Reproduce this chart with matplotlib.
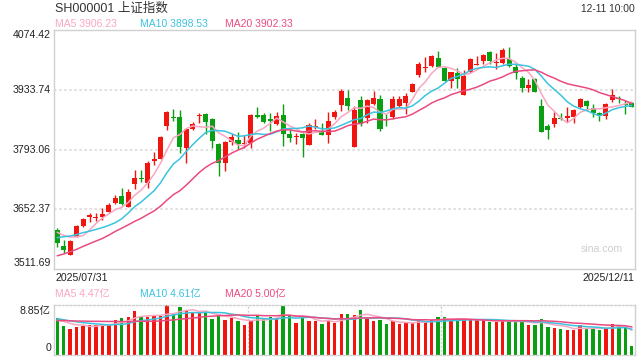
import numpy as np
import pandas as pd
import matplotlib
matplotlib.use("Agg")
import matplotlib.pyplot as plt

# ---------------- data ----------------
date_first = "2025/07/31"
date_last = "2025/12/11"
title = "SH000001 上证指数"
stamp = "12-11 10:00"

opens = [3603.8, 3566.2, 3545.7, 3588.1, 3614.0, 3635.3, 3632.9, 3634.5, 3647.1, 3667.5,
         3684.0, 3658.8, 3713.0, 3726.4, 3715.4, 3767.2, 3771.9, 3849.7, 3870.9, 3870.1,
         3797.8, 3841.8, 3872.4, 3877.2, 3864.6, 3806.5, 3762.5, 3812.0, 3815.9, 3807.3,
         3809.6, 3874.8, 3874.0, 3864.6, 3853.6, 3874.8, 3830.0, 3822.2, 3830.0, 3804.9,
         3847.3, 3835.5, 3828.5, 3870.1, 3898.3, 3914.8, 3800.2, 3910.1, 3868.5, 3900.7,
         3911.7, 3866.1, 3869.3, 3896.8, 3903.9, 3929.8, 3969.8, 3986.3, 3990.2, 4008.3,
         3985.5, 3955.7, 3973.8, 3921.9, 3975.3, 3993.4, 4002.0, 4022.4, 3998.1, 3998.1,
         4006.7, 3987.1, 3961.2, 3939.2, 3959.7, 3896.8, 3848.9, 3852.8, 3868.5, 3868.5,
         3870.9, 3892.9, 3907.8, 3892.1, 3879.5, 3873.3, 3911.0, 3915.7, 3900.0, 3903.9]
highs = [3607.8, 3580.3, 3580.3, 3616.4, 3633.0, 3643.9, 3643.9, 3655.7, 3667.5, 3686.3,
         3703.6, 3699.7, 3745.2, 3745.2, 3767.2, 3787.6, 3825.4, 3884.3, 3888.2, 3886.6,
         3843.4, 3858.3, 3880.3, 3880.3, 3867.7, 3808.8, 3814.3, 3830.0, 3835.5, 3827.7,
         3876.4, 3892.9, 3878.7, 3878.7, 3881.9, 3900.7, 3841.0, 3831.6, 3833.2, 3855.1,
         3865.4, 3855.1, 3881.1, 3885.8, 3936.8, 3933.7, 3896.0, 3919.6, 3913.3, 3931.3,
         3921.9, 3877.2, 3919.6, 3919.6, 3925.8, 3949.4, 3998.9, 4012.2, 4016.9, 4026.4,
         3987.1, 3976.9, 3985.5, 3980.0, 4009.1, 4013.8, 4018.5, 4025.6, 4021.7, 4031.9,
         4035.8, 3996.5, 3967.5, 3959.7, 3961.2, 3912.5, 3853.6, 3881.1, 3878.8, 3894.5,
         3889.0, 3915.7, 3910.2, 3900.0, 3882.7, 3902.3, 3936.1, 3920.4, 3910.2, 3904.7]
lows = [3563.0, 3548.9, 3545.7, 3586.6, 3611.7, 3621.9, 3624.3, 3627.4, 3646.3, 3665.9,
        3662.0, 3657.3, 3701.3, 3717.0, 3703.6, 3757.8, 3770.4, 3839.5, 3859.9, 3784.5,
        3760.9, 3838.7, 3855.2, 3830.0, 3796.3, 3731.9, 3743.6, 3803.3, 3793.9, 3796.3,
        3796.3, 3866.9, 3855.2, 3837.9, 3851.2, 3801.8, 3812.0, 3806.5, 3775.0, 3803.3,
        3841.0, 3827.7, 3809.6, 3865.4, 3885.0, 3886.6, 3800.2, 3848.9, 3856.7, 3897.6,
        3836.3, 3848.9, 3866.1, 3894.4, 3877.2, 3928.2, 3963.5, 3976.9, 3988.7, 3987.1,
        3954.1, 3937.6, 3939.2, 3921.9, 3973.8, 3992.6, 3995.0, 3995.0, 3982.4, 3995.0,
        3988.7, 3960.4, 3928.2, 3929.8, 3928.2, 3835.6, 3817.5, 3847.3, 3862.3, 3859.1,
        3856.8, 3890.5, 3889.0, 3870.9, 3859.9, 3864.6, 3906.2, 3902.3, 3876.4, 3894.5]
closes = [3574.0, 3556.7, 3577.9, 3613.3, 3629.8, 3638.4, 3635.3, 3641.6, 3662.8, 3679.3,
          3665.9, 3692.6, 3726.4, 3724.0, 3761.7, 3770.4, 3823.0, 3881.9, 3867.7, 3800.2,
          3841.0, 3852.8, 3874.0, 3859.1, 3814.3, 3762.5, 3811.2, 3823.0, 3806.5, 3809.6,
          3874.8, 3869.3, 3859.1, 3860.7, 3872.4, 3830.0, 3821.4, 3825.3, 3821.4, 3851.2,
          3849.6, 3828.5, 3860.6, 3882.6, 3932.1, 3896.8, 3886.6, 3852.8, 3910.1, 3914.8,
          3841.0, 3863.8, 3911.7, 3911.7, 3919.6, 3947.8, 3995.0, 3988.7, 4013.8, 3988.7,
          3955.7, 3975.3, 3960.4, 3966.7, 4006.7, 3995.0, 4016.2, 4002.8, 3999.7, 4027.9,
          3991.0, 3973.0, 3939.2, 3945.5, 3929.8, 3835.6, 3838.7, 3867.8, 3866.2, 3872.5,
          3886.6, 3911.7, 3895.2, 3878.8, 3873.3, 3900.0, 3921.2, 3911.7, 3898.4, 3894.5]
# volume in 亿
volumes = [6.60, 5.13, 4.60, 5.01, 5.19, 5.31, 5.31, 5.43, 5.31, 6.20,
           6.55, 6.73, 7.85, 6.79, 6.66, 6.90, 6.90, 8.85, 7.26, 8.44,
           7.97, 7.55, 7.37, 7.55, 6.43, 6.90, 6.20, 6.60, 6.02, 5.37,
           6.07, 7.02, 6.37, 6.73, 6.49, 8.67, 6.90, 5.61, 6.90, 6.02,
           5.96, 5.49, 6.07, 5.72, 7.26, 7.26, 7.08, 7.97, 6.43, 6.07,
           6.20, 5.49, 5.96, 5.49, 5.72, 5.61, 6.31, 5.84, 6.20, 6.73,
           6.73, 6.20, 6.20, 6.20, 6.31, 6.20, 6.20, 5.84, 5.84, 6.07,
           6.02, 5.84, 5.96, 5.31, 5.31, 6.31, 4.96, 4.78, 4.60, 4.48,
           4.48, 5.25, 4.66, 4.78, 4.48, 4.78, 5.49, 5.25, 4.90, 1.59]
# sessions before the first visible one (only feed the moving averages)
pre_close = [3472.32, 3473.13, 3497.48, 3493.05, 3509.68, 3510.18, 3519.65, 3505.00,
             3503.78, 3516.83, 3534.48, 3559.79, 3581.86, 3582.30, 3605.73, 3593.66,
             3597.94, 3609.71, 3615.72]
pre_vol = [5.1, 5.6, 5.8, 5.5, 5.9, 5.4, 5.7, 5.6, 6.1,
           6.9, 7.2, 6.5, 6.6, 6.8, 6.5, 6.2, 6.4, 6.3, 5.3]
ma_windows = [5, 10, 20]
ma_last_price = [3906.23, 3898.53, 3902.33]   # legend values shown in the header
ma_last_vol = [4.47, 4.61, 5.00]              # legend values shown above volume
price_ticks = [3511.69, 3652.37, 3793.06, 3933.74, 4074.42]
vol_max = 8.85

# ---------------- style ----------------
RED = "#f0160f"
GREEN = "#0a9e12"
MA_COLORS = ["#f9a6c2", "#3cc3df", "#ea4b80"]
GRID = "#dddddd"
BORDER = "#d0d0d0"
TXT = "#222222"
LAT = ["Liberation Sans", "Noto Sans CJK SC", "DejaVu Sans"]
plt.rcParams["font.family"] = LAT

W, H = 640, 360
fig = plt.figure(figsize=(6.4, 3.6), dpi=100)

def fx(x):
    return x / W

def fy(y):
    return 1 - y / H

n = len(closes)
idx = np.arange(n)
o = np.array(opens); c = np.array(closes)
hi = np.array(highs); lo = np.array(lows)
up = c >= o
cols = np.where(up, RED, GREEN)

# price axes
L, R = 54, 635
top, bot = 30.2, 269
ax = fig.add_axes([fx(L), fy(bot), (R - L) / W, (bot - top) / H])
ax.set_xlim(-0.5, n - 0.5)
ax.set_ylim(price_ticks[0], price_ticks[-1])
for t in price_ticks[1:-1]:
    ax.axhline(t, color=GRID, lw=1.3, ls=(0, (1.4, 1.4)), zorder=0)
ax.vlines(idx, lo, hi, colors=cols, lw=1.0, zorder=2)
body_b = np.minimum(o, c)
body_h = np.maximum(np.abs(c - o), 1.3)
ax.bar(idx, body_h, bottom=body_b, width=0.78, color=cols, lw=0, zorder=3)

allc = pd.Series(list(pre_close) + list(closes))
for w, col in zip(ma_windows, MA_COLORS):
    ma = allc.rolling(w).mean().values[-n:]
    ax.plot(idx, ma, color=col, lw=1.1, zorder=4, solid_capstyle="round")
ax.set_xticks([]); ax.set_yticks([])
for s in ax.spines.values():
    s.set_color(BORDER); s.set_linewidth(1.0)

# price labels
ly = [263, 209, 149.5, 90, 35]
for t, yy in zip(price_ticks, ly):
    fig.text(fx(51), fy(yy), f"{t:.2f}", ha="right", va="center", fontsize=7.6, color=TXT)

fig.text(fx(55), fy(8.5), title, ha="left", va="center", fontsize=9, color="#333333")
fig.text(fx(635), fy(9), stamp, ha="right", va="center", fontsize=7.4, color="#333333")
for xx, w, v, col in zip([55, 140, 225], ma_windows, ma_last_price, MA_COLORS):
    fig.text(fx(xx), fy(23.7), f"MA{w} {v:.2f}", ha="left", va="center", fontsize=7.5, color=col)

fig.text(fx(55), fy(278), date_first, ha="left", va="center", fontsize=7.6, color=TXT)
fig.text(fx(634), fy(278), date_last, ha="right", va="center", fontsize=7.6, color=TXT)
fig.text(fx(623), fy(249), "sina.com", ha="right", va="center", fontsize=7.6, color="#cfcfcf")

# volume axes
vt, vb = 305, 355
axv = fig.add_axes([fx(L), fy(vb), (R - L) / W, (vb - vt) / H])
axv.set_xlim(-0.5, n - 0.5)
axv.set_ylim(0, vol_max)
axv.bar(idx, volumes, width=0.52, color=cols, lw=0, zorder=2)
allv = pd.Series(list(pre_vol) + list(volumes))
for w, col in zip(ma_windows, MA_COLORS):
    ma = allv.rolling(w).mean().values[-n:]
    axv.plot(idx, ma, color=col, lw=1.1, zorder=3)
for frac in (1 / 3, 2 / 3):
    axv.axvline(-0.5 + n * frac, color="#cccccc", lw=1.0, ls=(0, (1.4, 1.4)), zorder=1)
axv.set_xticks([]); axv.set_yticks([])
for k, s in axv.spines.items():
    s.set_color(BORDER); s.set_linewidth(1.0)
    if k in ("top", "bottom"):
        s.set_linestyle((0, (1.4, 1.4)))

for xx, w, v, col in zip([55, 140, 225], ma_windows, ma_last_vol, MA_COLORS):
    fig.text(fx(xx), fy(294), f"MA{w} {v:.2f}亿", ha="left", va="center", fontsize=7.5, color=col)
fig.text(fx(51), fy(311), f"{vol_max:.2f}亿", ha="right", va="center", fontsize=7.6, color=TXT)
fig.text(fx(51), fy(348), "0", ha="right", va="center", fontsize=7.6, color=TXT)

fig.savefig("out.png", dpi=100, facecolor="white")
